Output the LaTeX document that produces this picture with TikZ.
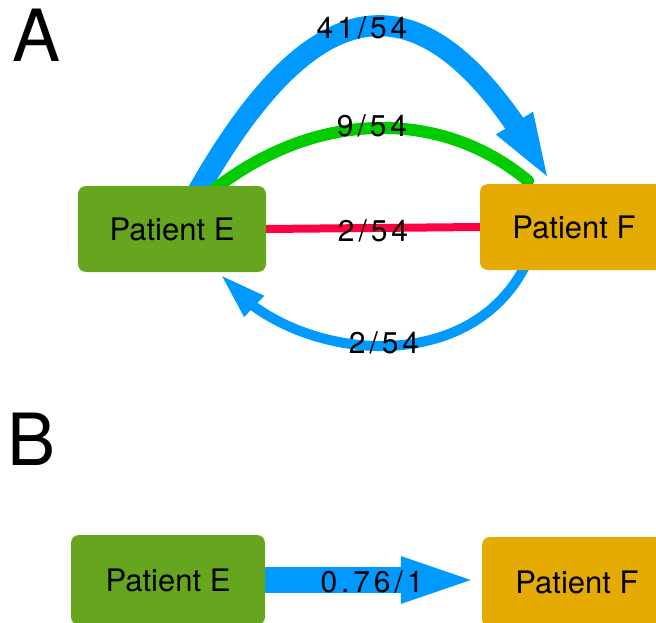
\documentclass[tikz,border=0pt]{standalone}
\usepackage{fontspec}
\setmainfont{TeX Gyre Heros}
\newfontfamily\labfont[LetterSpace=13]{TeX Gyre Heros}
\usetikzlibrary{arrows.meta,bending,backgrounds,calc}
\definecolor{egreen}{RGB}{102,166,30}
\definecolor{forange}{RGB}{230,171,2}
\definecolor{eblue}{RGB}{0,153,255}
\definecolor{egr}{RGB}{0,204,0}
\definecolor{ered}{RGB}{255,0,64}
\begin{document}
\begin{tikzpicture}[x=1pt,y=-1pt,
  patient/.style={rounded corners=8pt, inner sep=0pt, font=\fontsize{31}{37}\selectfont},
  lab/.style={anchor=base, inner sep=0pt, font=\labfont\fontsize{30}{36}\selectfont},
  panel/.style={anchor=base west, inner sep=0pt, font=\fontsize{72}{80}\selectfont}]
\useasboundingbox (0,0) rectangle (656,623);
\clip (0,0) rectangle (656,623);
% nodes
\node[patient, fill=egreen, minimum width=188pt, minimum height=86pt] (EA) at (172,229) {Patient E};
\node[patient, fill=forange, minimum width=188pt, minimum height=86pt] (FA) at (574,227) {Patient F};
\node[patient, fill=egreen, minimum width=194pt, minimum height=90pt] (EB) at (168,580) {Patient E};
\node[patient, fill=forange, minimum width=190pt, minimum height=90pt] (FB) at (577,582) {Patient F};
\node[panel] (pA) at (12,62) {A};
\node[panel] (pB) at (7,465) {B};
% edges
\begin{pgfonlayer}{background}
\draw[eblue, line width=21pt, -{Triangle[length=70pt,width=37pt,flex]}]
  ($(EA.north)+(24,9)$) .. controls (333,-49) and (445,-8) .. ($(FA.north)+(-23,-1)$);
\draw[egr, line width=12pt, line cap=round]
  ($(EA.north)+(38,7)$) .. controls (311,111) and (438,106) .. ($(FA.north)+(-46,-3)$);
\draw[ered, line width=8pt] (EA.east) -- (FA.west);
\draw[eblue, line width=10pt, -{Triangle[length=47pt,width=26pt,flex]}]
  ($(FA.south)+(-47,-8)$) .. controls (470,382) and (288,362) .. ($(EA.south)+(48,2)$);
\draw[eblue, line width=26pt, -{Triangle[length=81pt,width=40pt]}]
  (EB.east) -- (EB.east -| FB.west);
\end{pgfonlayer}
% labels
\node[lab] (l41) at (362,39) {41/54};
\node[lab] (l9) at (372,137) {9/54};
\node[lab] (l2a) at (373,241) {2/54};
\node[lab] (l2b) at (384,353) {2/54};
\node[lab] (l76) at (372,592) {0.76/1};
\end{tikzpicture}
\end{document}
